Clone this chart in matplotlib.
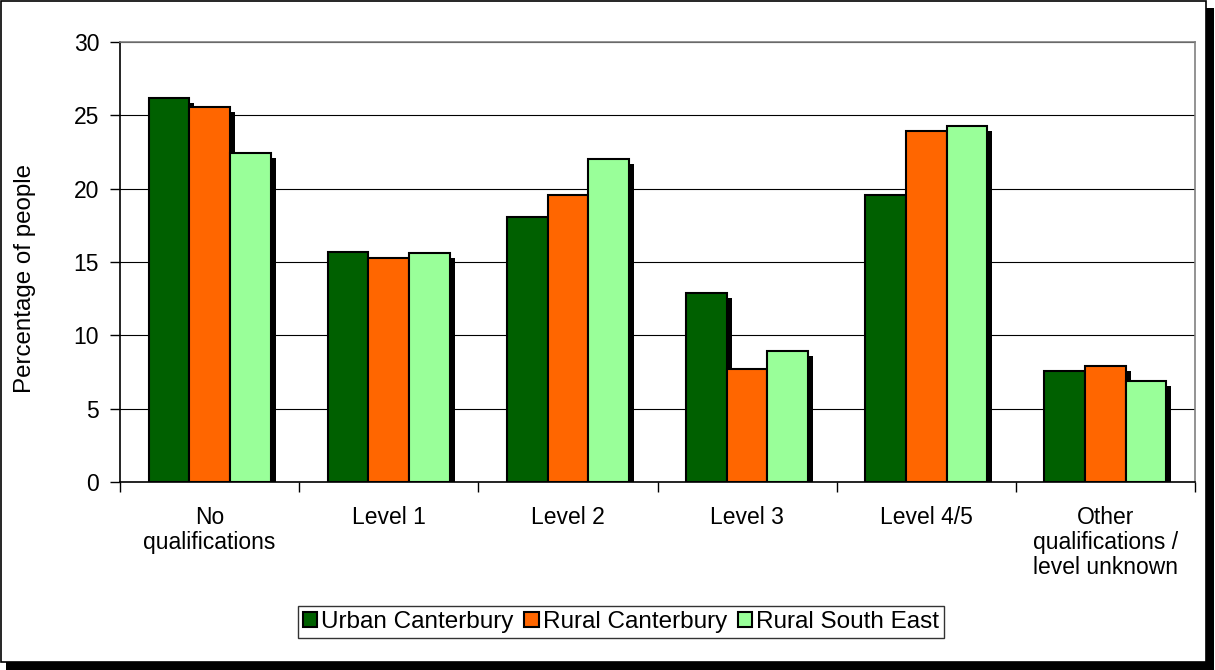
import matplotlib
matplotlib.use("Agg")
import matplotlib.pyplot as plt
from matplotlib.patches import Rectangle
import numpy as np

plt.rcParams['font.family'] = ['Liberation Sans', 'DejaVu Sans']

categories = ["No\nqualifications", "Level 1", "Level 2", "Level 3", "Level 4/5",
              "Other\nqualifications /\nlevel unknown"]
series_names = ["Urban Canterbury", "Rural Canterbury", "Rural South East"]
urban_canterbury = [26.2, 15.7, 18.1, 12.9, 19.6, 7.6]
rural_canterbury = [25.6, 15.3, 19.6, 7.7, 23.9, 7.9]
rural_south_east = [22.4, 15.6, 22.0, 8.9, 24.3, 6.9]
colors = ["#006000", "#FF6600", "#99FF99"]
yticks = [0, 5, 10, 15, 20, 25, 30]

FS = 16.5

fig = plt.figure(figsize=(12.15, 6.7), dpi=100)
# outer frame with shadow
fig.patches.append(Rectangle((6/1215, 0), 1208/1215, 662/670, transform=fig.transFigure,
                             facecolor='black', edgecolor='none', zorder=0))
fig.patches.append(Rectangle((1/1215, 8/670), 1205/1215, 661/670, transform=fig.transFigure,
                             facecolor='white', edgecolor='black', linewidth=1.2, zorder=1))

ax = fig.add_axes([120/1215, 1 - 482/670, 1075/1215, 440/670])
ax.set_zorder(2)
x = np.arange(len(categories))
w = 0.227
data = [urban_canterbury, rural_canterbury, rural_south_east]
px_x = 1.0 * len(categories) / 1075  # data units per pixel in x
px_y = 30.0 / 440
for i, vals in enumerate(data):
    xs = x + (i - 1) * w
    ax.bar(xs + 5 * px_x, np.array(vals) - 5 * px_y, width=w, color='black',
           edgecolor='none', zorder=2 + 2 * i)
    ax.bar(xs, vals, width=w, color=colors[i], edgecolor='black', linewidth=1.5,
           zorder=3 + 2 * i, label=series_names[i])

ax.set_xlim(-0.5, len(categories) - 0.5)
ax.set_ylim(0, 30)
ax.set_yticks(yticks)
ax.set_yticklabels([str(t) for t in yticks], fontsize=FS)
ax.yaxis.grid(True, color='black', linewidth=0.8)
ax.set_axisbelow(True)
ax.set_xticks(x)
ax.set_xticklabels(categories, fontsize=FS, linespacing=1.13)
ax.tick_params(axis='x', length=0, pad=17)
ax.set_xticks(np.arange(-0.5, len(categories) + 0.5, 1), minor=True)
ax.tick_params(axis='x', which='minor', length=7, width=1, direction='out')
ax.tick_params(axis='y', length=7, width=1, direction='out', pad=8)
for s in ['top', 'right']:
    ax.spines[s].set_color('#808080')
    ax.spines[s].set_linewidth(1.2)
ax.spines['left'].set_linewidth(1.2)
ax.spines['bottom'].set_linewidth(1.2)
ax.set_ylabel("Percentage of people", fontsize=17.4, labelpad=27)
ax.yaxis.label.set_y(0.4636)

leg = fig.legend(loc='center', bbox_to_anchor=(621/1215, 1 - 622/670), ncol=3, fontsize=17.5,
                 frameon=True, fancybox=False, edgecolor='black', handlelength=0.6,
                 handleheight=0.6, handletextpad=0.15, columnspacing=0.45,
                 borderpad=0.2, borderaxespad=0)
leg.get_frame().set_linewidth(1.0)

fig.savefig("out.png", dpi=100)
